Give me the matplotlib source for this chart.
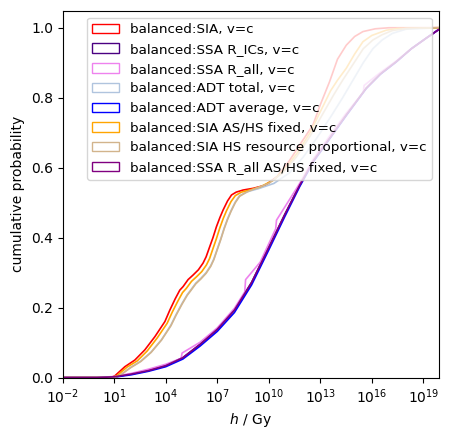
import numpy as np
import matplotlib.pyplot as plt
from matplotlib.patches import Patch

# cumulative probability curves, x given as log10(h / Gy)
sia_logh = [-2, 0.8, 1.04, 1.62, 2.2, 2.78, 3.37, 3.95, 4.24, 4.55, 4.82, 5.01, 5.3, 5.59, 5.9,
            6.17, 6.35, 6.56, 6.75, 6.95, 7.15, 7.34, 7.6, 7.83, 8.1, 8.5, 9.1, 9.8, 10.5, 11.2,
            11.8, 12.57, 13.0, 13.54, 14.0, 14.51, 15.0, 15.48, 16.2, 17.0, 19.9]
sia_cdf = [0, 0, 0.005, 0.031, 0.05, 0.079, 0.117, 0.16, 0.193, 0.225, 0.25, 0.26, 0.28, 0.293,
           0.308, 0.327, 0.345, 0.374, 0.40, 0.431, 0.457, 0.479, 0.505, 0.522, 0.53, 0.536, 0.541,
           0.55, 0.575, 0.62, 0.665, 0.722, 0.78, 0.846, 0.91, 0.95, 0.975, 0.989, 0.997, 1.0, 1.0]

sia_fixed_logh = [-2, 0.9, 1.15, 1.75, 2.35, 2.92, 3.5, 4.08, 4.38, 4.7, 4.98, 5.2, 5.5, 5.79,
                  6.1, 6.37, 6.55, 6.76, 6.95, 7.15, 7.35, 7.54, 7.8, 8.05, 8.4, 8.8, 9.5, 10.3,
                  11.0, 11.7, 12.4, 13.0, 13.6, 14.0, 14.51, 15.0, 15.48, 16.0, 16.84, 17.5, 19.9]
sia_fixed_cdf = [0, 0, 0.005, 0.03, 0.048, 0.076, 0.113, 0.155, 0.187, 0.218, 0.243, 0.255, 0.275,
                 0.288, 0.303, 0.322, 0.34, 0.37, 0.397, 0.428, 0.455, 0.477, 0.503, 0.52, 0.53,
                 0.535, 0.545, 0.565, 0.60, 0.645, 0.70, 0.76, 0.82, 0.85, 0.884, 0.925, 0.96,
                 0.978, 0.993, 0.998, 1.0]

sia_hs_logh = [-2, 1.0, 1.3, 1.95, 2.55, 3.15, 3.75, 4.3, 4.6, 4.95, 5.25, 5.45, 5.75, 6.05,
               6.35, 6.62, 6.8, 7.01, 7.2, 7.4, 7.6, 7.8, 8.05, 8.3, 8.7, 9.2, 10.0, 10.8, 11.6,
               12.4, 13.1, 13.8, 14.3, 14.9, 15.5, 16.06, 16.6, 17.2, 18.0, 19.9]
sia_hs_cdf = [0, 0, 0.005, 0.028, 0.046, 0.072, 0.107, 0.148, 0.178, 0.21, 0.235, 0.248, 0.268,
              0.282, 0.298, 0.318, 0.337, 0.367, 0.394, 0.425, 0.452, 0.475, 0.5, 0.518, 0.53,
              0.54, 0.555, 0.585, 0.63, 0.69, 0.75, 0.81, 0.85, 0.895, 0.94, 0.965, 0.98, 0.992,
              0.998, 1.0]

adt_total_logh = [-2, 1.0, 1.3, 1.95, 2.55, 3.15, 3.75, 4.3, 4.6, 4.95, 5.25, 5.45, 5.75, 6.05,
                  6.35, 6.62, 6.8, 7.01, 7.2, 7.4, 7.6, 7.8, 8.05, 8.3, 8.8, 9.4, 10.3, 11.2, 12.0,
                  12.8, 13.6, 14.3, 14.9, 15.5, 16.06, 16.6, 17.2, 18.0, 19.9]
adt_total_cdf = [0, 0, 0.005, 0.029, 0.047, 0.073, 0.108, 0.15, 0.18, 0.212, 0.237, 0.25, 0.27,
                 0.284, 0.3, 0.32, 0.339, 0.369, 0.396, 0.427, 0.454, 0.477, 0.502, 0.52, 0.532,
                 0.54, 0.555, 0.585, 0.63, 0.685, 0.745, 0.80, 0.85, 0.90, 0.94, 0.965, 0.984,
                 0.996, 1.0]

ssa_logh = [-2, 0.0, 1.0, 2.0, 3.0, 4.0, 5.0, 6.0, 7.0, 8.0, 9.0, 10.0, 10.93, 11.8, 12.6, 13.54,
            14.5, 15.67, 16.5, 17.42, 18.3, 19.16, 19.9]
ssa_ics_cdf = [0, 0, 0.002, 0.01, 0.02, 0.034, 0.057, 0.095, 0.138, 0.193, 0.272, 0.372, 0.466,
               0.55, 0.62, 0.684, 0.75, 0.827, 0.868, 0.903, 0.94, 0.97, 0.995]
adt_avg_cdf = [0, 0, 0.001, 0.008, 0.018, 0.031, 0.053, 0.09, 0.132, 0.186, 0.265, 0.365, 0.46,
               0.546, 0.617, 0.682, 0.748, 0.826, 0.867, 0.902, 0.94, 0.97, 0.995]
ssa_fixed_cdf = [0, 0, 0.002, 0.01, 0.02, 0.034, 0.057, 0.095, 0.138, 0.193, 0.272, 0.372, 0.466,
                 0.55, 0.62, 0.684, 0.75, 0.827, 0.868, 0.903, 0.94, 0.97, 0.995]

ssa_all_logh = [-2, 0.0, 1.0, 2.0, 3.0, 4.0, 4.9, 4.95, 6.0, 7.0, 8.0, 8.6, 8.65, 9.5, 10.4, 10.45,
                11.8, 12.6, 13.54, 14.5, 15.5, 15.55, 16.5, 17.42, 18.3, 19.16, 19.9]
ssa_all_cdf = [0, 0, 0.003, 0.012, 0.024, 0.038, 0.055, 0.07, 0.101, 0.142, 0.198, 0.245, 0.28,
               0.33, 0.425, 0.45, 0.555, 0.625, 0.69, 0.755, 0.815, 0.835, 0.872, 0.905, 0.94,
               0.97, 0.995]

series = [
    ("balanced:SIA, v=c", "red", sia_logh, sia_cdf),
    ("balanced:SSA R_ICs, v=c", "indigo", ssa_logh, ssa_ics_cdf),
    ("balanced:SSA R_all, v=c", "violet", ssa_all_logh, ssa_all_cdf),
    ("balanced:ADT total, v=c", "lightsteelblue", adt_total_logh, adt_total_cdf),
    ("balanced:ADT average, v=c", "blue", ssa_logh, adt_avg_cdf),
    ("balanced:SIA AS/HS fixed, v=c", "orange", sia_fixed_logh, sia_fixed_cdf),
    ("balanced:SIA HS resource proportional, v=c", "tan", sia_hs_logh, sia_hs_cdf),
    ("balanced:SSA R_all AS/HS fixed, v=c", "purple", ssa_logh, ssa_fixed_cdf),
]

fig = plt.figure(figsize=(4.51, 4.38), dpi=100)
ax = fig.add_axes([0.139, 0.138, 0.834, 0.837])

handles = []
for label, color, logh, cdf in series:
    ax.plot(10.0 ** np.array(logh), cdf, color=color, lw=1.2)
    handles.append(Patch(facecolor='none', edgecolor=color, label=label))

ax.set_xscale('log')
ax.set_xlim(1e-2, 10 ** 19.9)
ax.set_ylim(0, 1.048)
ax.set_xticks(10.0 ** np.arange(-2, 20, 3))
ax.xaxis.set_minor_locator(plt.NullLocator())
ax.set_xlabel('$h$ / Gy')
ax.set_ylabel('cumulative probability')
ax.legend(handles=handles, loc='upper right', fontsize=9.7)

fig.savefig('out.png', dpi=100)
